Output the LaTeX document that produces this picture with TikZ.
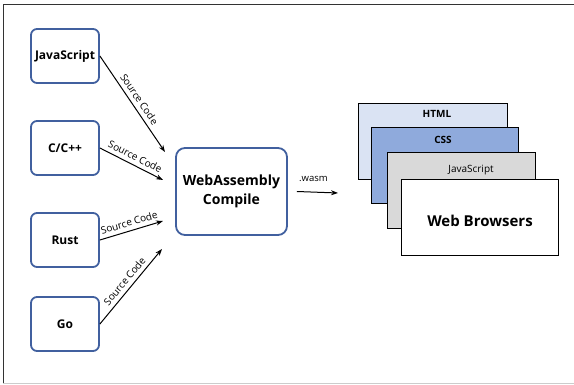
\documentclass[tikz,border=0pt]{standalone}
\usepackage{fontspec}
\setmainfont{Open Sans}
\usetikzlibrary{arrows.meta,positioning}
\definecolor{langblue}{HTML}{41609F}
\definecolor{htmlfill}{HTML}{DAE3F3}
\definecolor{cssfill}{HTML}{8FAADC}
\definecolor{jsfill}{HTML}{D9D9D9}
\newcommand\langbox[3]{
    \node[langnode] (#1) at (65,#2) {#3};
}
\newcommand\layer[5]{
    \node[layernode, fill=#2, minimum width=#3, minimum height=76] (#1) at (#4,#5) {};
}
\tikzset{
    langnode/.style={draw=langblue, line width=1.8pt, rounded corners=6pt,
        minimum width=68, minimum height=54, font=\bfseries\fontsize{12}{14}\selectfont},
    wasmnode/.style={draw=langblue, line width=1.8pt, rounded corners=9pt,
        minimum width=111, minimum height=87, align=center,
        font=\bfseries\fontsize{14}{19}\selectfont},
    layernode/.style={draw=black, line width=1pt},
    srcarrow/.style={-{Stealth[length=7pt,width=5pt]}, line width=1pt},
    srclabel/.style={sloped, above=2pt, font=\fontsize{10}{12}\selectfont, inner sep=2pt},
}
\begin{document}
\begin{tikzpicture}[x=1pt, y=-1pt]
    \useasboundingbox (0,0) rectangle (574,385);
    % frame
    \draw[black!80, line width=1pt] (3,383) -- (3,5) -- (574,5);
    \draw[black!20, line width=1pt] (3,383.5) -- (574,383.5);

    % source languages
    \langbox{js}{56}{JavaScript}
    \langbox{cpp}{148}{C/C++}
    \langbox{rust}{240}{Rust}
    \langbox{go}{324}{Go}

    \node[wasmnode] (wasm) at (231.5,191.5) {WebAssembly\\Compile};

    \coordinate (injs) at (165,152);
    \coordinate (incpp) at (163,180);
    \coordinate (inrust) at (163,221);
    \coordinate (ingo) at (162,249);

    \draw[srcarrow] (js.east) -- node[srclabel] {Source Code} (injs);
    \draw[srcarrow] (cpp.east) -- node[srclabel] {Source Code} (incpp);
    \draw[srcarrow] (rust.east) -- node[srclabel] {Source Code} (inrust);
    \draw[srcarrow] (go.east) -- node[srclabel] {Source Code} (ingo);

    % browser stack
    \layer{html}{htmlfill}{149}{432.5}{142}
    \layer{css}{cssfill}{147}{444.5}{166}
    \layer{jsl}{jsfill}{148}{461}{190.5}
    \layer{browser}{white}{157}{479.5}{218}
    \node[font=\bfseries\fontsize{10}{12}\selectfont] (htmltxt) at (437,114) {HTML};
    \node[font=\bfseries\fontsize{10}{12}\selectfont] (csstxt) at (443,140) {CSS};
    \node[font=\fontsize{10}{12}\selectfont] (jstxt) at (471,170) {JavaScript};
    \node[font=\bfseries\fontsize{15}{18}\selectfont] (browsertxt) at (480,221) {Web Browsers};

    \coordinate (stack) at (338,193);
    \draw[srcarrow] ([xshift=9pt]wasm.east) -- node[above=7pt, xshift=-4pt, font=\fontsize{9.5}{12}\selectfont] (wasmtxt) {.wasm} (stack);
\end{tikzpicture}
\end{document}
